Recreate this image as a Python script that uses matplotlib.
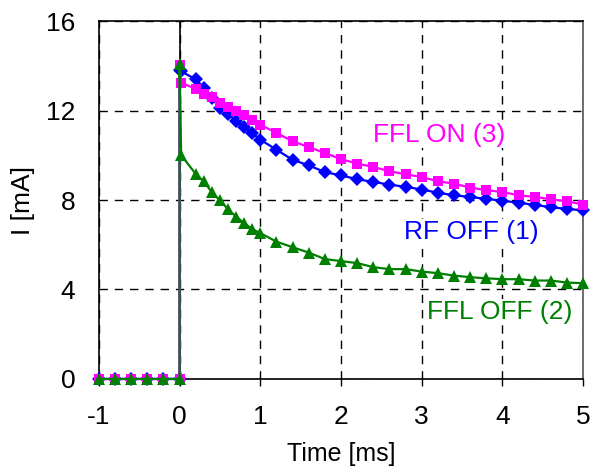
import numpy as np
import matplotlib.pyplot as plt

plt.rcParams["font.family"] = ["Liberation Sans", "DejaVu Sans"]
plt.rcParams["axes.unicode_minus"] = False

# tiempos antes del pulso (todas las curvas en 0)
t_pre = [-1.0, -0.8, -0.6, -0.4, -0.2, 0.0]
i_pre = [0, 0, 0, 0, 0, 0]

# tiempos después del pulso
t_post = [0.0, 0.02, 0.2, 0.3, 0.4, 0.5, 0.6, 0.7, 0.8, 0.9, 1.0,
          1.2, 1.4, 1.6, 1.8, 2.0, 2.2, 2.4, 2.6, 2.8, 3.0,
          3.2, 3.4, 3.6, 3.8, 4.0, 4.2, 4.4, 4.6, 4.8, 5.0]

# RF OFF (1)
i_rf_off = [13.8, 13.75, 13.4, 13.02, 12.57, 12.13, 11.86, 11.53, 11.26, 11.0, 10.7,
            10.25, 9.8, 9.55, 9.25, 9.1, 8.93, 8.81, 8.69, 8.59, 8.47,
            8.33, 8.21, 8.14, 8.05, 7.97, 7.88, 7.78, 7.68, 7.6, 7.54]

# FFL ON (3)
i_ffl_on = [14.05, 13.23, 12.98, 12.75, 12.6, 12.34, 12.16, 11.98, 11.79, 11.56, 11.37,
            11.0, 10.63, 10.37, 10.1, 9.83, 9.63, 9.48, 9.29, 9.15, 9.03,
            8.84, 8.73, 8.56, 8.44, 8.36, 8.21, 8.14, 8.04, 7.94, 7.8]

# FFL OFF (2)
i_ffl_off = [14.1, 10.0, 9.17, 8.83, 8.35, 7.98, 7.59, 7.26, 6.97, 6.7, 6.52,
             6.14, 5.89, 5.65, 5.36, 5.27, 5.18, 5.0, 4.91, 4.91, 4.8,
             4.73, 4.62, 4.55, 4.5, 4.46, 4.46, 4.4, 4.4, 4.31, 4.28]

series = [
    (i_rf_off, "#0000FF", "D", 7),
    (i_ffl_on, "#FF00FF", "s", 7.5),
    (i_ffl_off, "#008000", "^", 9),
]

fig = plt.figure(figsize=(5.92, 4.69), dpi=100)
ax = fig.add_axes([0.167, 0.192, 0.818, 0.763])

for vals, col, mk, ms in series:
    t = t_pre + t_post
    y = i_pre + vals
    ax.plot(t, y, color=col, lw=1.6, marker=mk, markersize=ms,
            markeredgewidth=0, clip_on=False, zorder=3)

ax.axvline(0, color="black", lw=1.2, zorder=1)

ax.set_xlim(-1, 5)
ax.set_ylim(0, 16)
ax.set_xticks([-1, 0, 1, 2, 3, 4, 5])
ax.set_yticks([0, 4, 8, 12, 16])

ax.grid(True, color="black", lw=1, linestyle=(0, (6, 5)))
ax.set_axisbelow(True)

ax.tick_params(axis="x", direction="out", length=5, width=1, pad=14, labelsize=19)
ax.tick_params(axis="y", length=0, pad=17, labelsize=19)

for s in ["left", "top", "bottom"]:
    ax.spines[s].set_color("black")
    ax.spines[s].set_linewidth(1.2)
ax.spines["right"].set_color("#555555")
ax.spines["right"].set_linewidth(1.2)

ax.set_xlabel("Time [ms]", fontsize=18, labelpad=9)
ax.set_ylabel("I [mA]", fontsize=19, labelpad=8)

box = dict(facecolor="white", edgecolor="none", pad=1)
ax.text(2.4, 10.9, "FFL ON (3)", color="#FF00FF", fontsize=19, va="center", bbox=box)
ax.text(2.78, 6.55, "RF OFF (1)", color="#0000FF", fontsize=19, va="center", bbox=box)
ax.text(3.07, 3.0, "FFL OFF (2)", color="#008000", fontsize=19, va="center", bbox=box)

fig.savefig("out.png", dpi=100)
